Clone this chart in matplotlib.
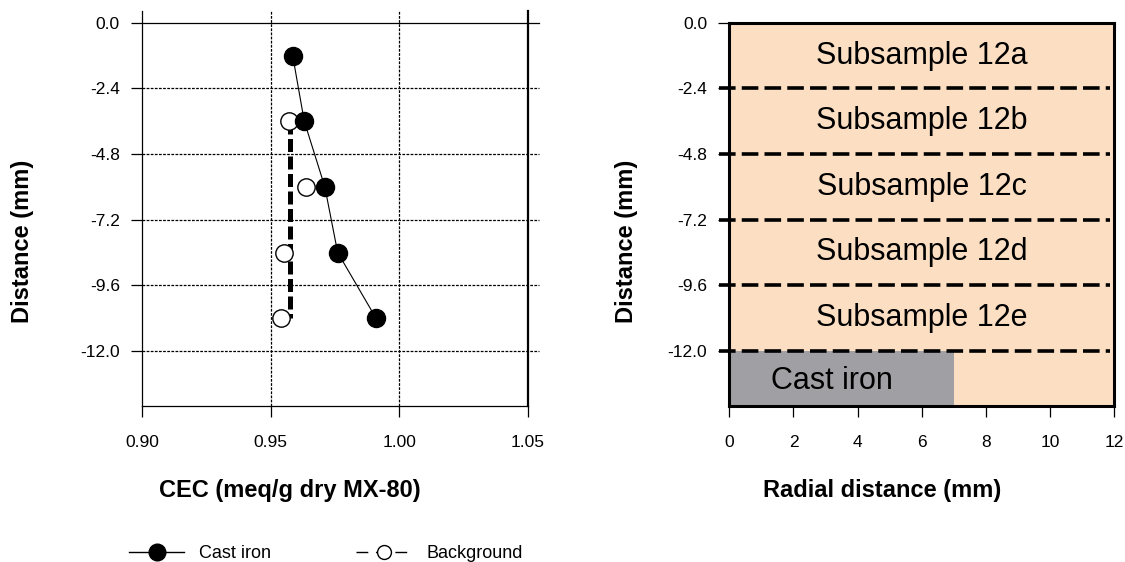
import matplotlib
matplotlib.use("Agg")
import matplotlib.pyplot as plt
from matplotlib.lines import Line2D
import matplotlib.transforms as mtransforms

plt.rcParams['font.family'] = ['Liberation Sans', 'DejaVu Sans']
plt.rcParams['axes.unicode_minus'] = False

# ---------------- data ----------------
depth_cast = [-1.2, -3.6, -6.0, -8.4, -10.8]
cec_cast = [0.9586, 0.9631, 0.9711, 0.9761, 0.9910]
depth_bg = [-3.6, -6.0, -8.4, -10.8]
cec_bg = [0.9572, 0.9639, 0.9553, 0.9540]
bg_mean = 0.9577
bg_mean_span = [-3.6, -10.8]

cec_ticks = [0.90, 0.95, 1.00, 1.05]
cec_tick_labels = ["0.90", "0.95", "1.00", "1.05"]
depth_ticks = [0.0, -2.4, -4.8, -7.2, -9.6, -12.0]
depth_tick_labels = ["0.0", "-2.4", "-4.8", "-7.2", "-9.6", "-12.0"]
radial_ticks = [0, 2, 4, 6, 8, 10, 12]
radial_tick_labels = ["0", "2", "4", "6", "8", "10", "12"]

subsample_names = ["Subsample 12a", "Subsample 12b", "Subsample 12c",
                   "Subsample 12d", "Subsample 12e"]
subsample_centers = [-1.2, -3.6, -6.0, -8.4, -10.8]
boundaries = [-2.4, -4.8, -7.2, -9.6, -12.0]
cast_iron_width = 7.0
cast_iron_top = -12.0
radial_max = 12.0
depth_min = -14.0

PEACH = '#FCDFC3'
GRAY = '#A0A0A4'

W, H = 1125, 562
fig = plt.figure(figsize=(W / 100, H / 100), dpi=100)

def fx(px):
    return px / W

def fy(py):
    return 1 - py / H

# ---------------- left panel ----------------
axL = fig.add_axes([fx(142), fy(405.7), fx(527.7) - fx(142), fy(11) - fy(405.7)])
axL.set_xlim(0.90, 1.05)
axL.set_ylim(depth_min, 0.428)
axL.spines['top'].set_visible(False)
for s in ['left', 'bottom']:
    axL.spines[s].set_linewidth(0.9)
axL.spines['right'].set_linewidth(1.6)

trans_L = mtransforms.blended_transform_factory(axL.transAxes, axL.transData)
for y in depth_ticks:
    if y == 0.0:
        axL.plot([0, 1.03], [y, y], transform=trans_L, color='black', lw=0.9,
                 clip_on=False, zorder=1)
    else:
        axL.plot([0, 1.03], [y, y], transform=trans_L, color='black', lw=0.9,
                 linestyle=(0, (2.2, 1.1)), clip_on=False, zorder=1)
for x in cec_ticks[1:3]:
    axL.axvline(x, color='black', lw=0.9, linestyle=(0, (2.2, 1.1)), zorder=1)

axL.plot(cec_cast, depth_cast, color='black', lw=0.8, marker='o',
         markersize=13, markerfacecolor='black', markeredgecolor='black', zorder=4)
axL.plot(cec_bg, depth_bg, linestyle='none', marker='o', markersize=12.5,
         markerfacecolor='white', markeredgecolor='black', markeredgewidth=1.0, zorder=3)
axL.plot([bg_mean, bg_mean], bg_mean_span, color='black', lw=3.6,
         linestyle=(0, (2.6, 0.9)), zorder=2)

axL.set_xticks(cec_ticks)
axL.set_xticklabels(cec_tick_labels)
axL.set_yticks(depth_ticks)
axL.set_yticklabels(depth_tick_labels)
axL.tick_params(axis='x', direction='out', length=8, width=0.9, pad=13, labelsize=12.5)
axL.tick_params(axis='y', direction='out', length=8, width=0.9, pad=8, labelsize=12.5)

# ---------------- right panel ----------------
axR = fig.add_axes([fx(729.3), fy(405.7), fx(1114.3) - fx(729.3), fy(22.7) - fy(405.7)])
axR.set_xlim(0, radial_max)
axR.set_ylim(depth_min, 0)
axR.set_facecolor(PEACH)
for s in axR.spines.values():
    s.set_linewidth(2.2)
    s.set_zorder(6)

axR.bar([cast_iron_width / 2], [cast_iron_top - depth_min], width=cast_iron_width,
        bottom=depth_min, color=GRAY, edgecolor='none', zorder=2)

trans_R = mtransforms.blended_transform_factory(axR.transAxes, axR.transData)
for y in boundaries:
    axR.plot([-0.028, 0.99], [y, y], transform=trans_R, color='black', lw=2.6,
             linestyle=(0, (4.6, 1.7)), clip_on=False, zorder=5)

for name, yc in zip(subsample_names, subsample_centers):
    axR.text(6.0, yc, name, ha='center', va='center', fontsize=22, zorder=7)
axR.text(3.2, (cast_iron_top + depth_min) / 2 - 0.1, "Cast iron", ha='center',
         va='center', fontsize=22, zorder=7)

axR.set_xticks(radial_ticks)
axR.set_xticklabels(radial_tick_labels)
axR.set_yticks(depth_ticks)
axR.set_yticklabels(depth_tick_labels)
axR.tick_params(axis='x', direction='out', length=8, width=0.9, pad=13, labelsize=12.5)
axR.tick_params(axis='y', direction='out', length=8, width=0.9, pad=8, labelsize=12.5)

# ---------------- axis labels ----------------
fig.text(fx(22.5), fy(241), "Distance (mm)", rotation=90, ha='center', va='center',
         fontsize=17, fontweight='bold')
fig.text(fx(626), fy(241), "Distance (mm)", rotation=90, ha='center', va='center',
         fontsize=17, fontweight='bold')
fig.text(fx(290), fy(490), "CEC (meq/g dry MX-80)", ha='center', va='center',
         fontsize=17, fontweight='bold')
fig.text(fx(882.5), fy(490), "Radial distance (mm)", ha='center', va='center',
         fontsize=17, fontweight='bold')

# ---------------- legend ----------------
h1 = Line2D([], [], color='black', lw=1.0, marker='o', markersize=12,
            markerfacecolor='black', markeredgecolor='black')
h2 = Line2D([], [], color='black', lw=1.0, linestyle=(0, (8.5, 5.5)), marker='o',
            markersize=10, markerfacecolor='white', markeredgecolor='black')
fig.legend([h1, h2], ["Cast iron", "Background"], loc='center',
           bbox_to_anchor=(fx(326), fy(554)), ncol=2, frameon=False,
           fontsize=13, handlelength=3.05, handletextpad=0.83, columnspacing=4.7,
           borderpad=0, borderaxespad=0)

fig.savefig("out.png", dpi=100)
